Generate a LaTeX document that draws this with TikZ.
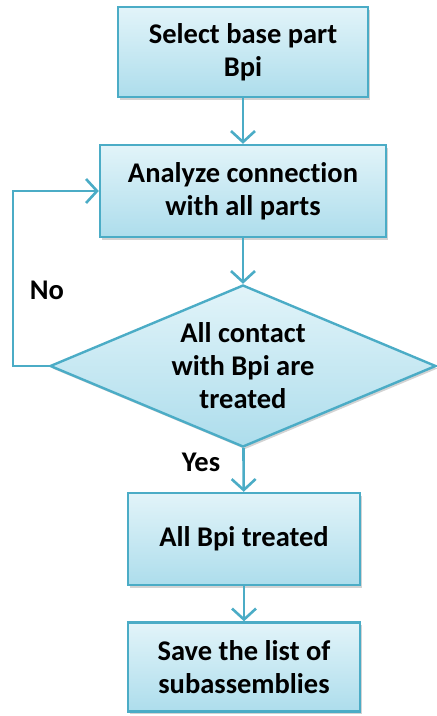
\documentclass[tikz,border=0pt]{standalone}
\usepackage{fontspec}
\setmainfont{Carlito}[Ligatures=NoCommon]
\usetikzlibrary{arrows.meta,shapes.geometric,shadows}

\definecolor{edgeblue}{HTML}{4BACC6}
\definecolor{filltop}{HTML}{E2F4F9}
\definecolor{fillbot}{HTML}{ADDDEC}

\tikzset{
  x=1pt, y=-1pt,
  every node/.style={font=\bfseries\fontsize{28.5}{33}\selectfont, text=black},
  flowbox/.style={draw=edgeblue, line width=2.4pt, top color=filltop, bottom color=fillbot,
    rectangle, align=center, inner sep=0pt,
    drop shadow={shadow xshift=2pt, shadow yshift=-2.5pt, opacity=0.35}},
  decision/.style={draw=edgeblue, line width=2.4pt, top color=filltop, bottom color=fillbot,
    diamond, align=center, inner sep=0pt, aspect=2.4,
    minimum width=386pt, minimum height=162pt,
    drop shadow={shadow xshift=2pt, shadow yshift=-2.5pt, opacity=0.35}},
  flow/.style={draw=edgeblue, line width=2.6pt,
    -{Straight Barb[length=11pt, width=24pt, line width=2.6pt]}},
  tag/.style={inner sep=0pt}
}

\begin{document}
\begin{tikzpicture}
  \useasboundingbox (0,0) rectangle (437,716);

  \node[flowbox, minimum width=250pt, minimum height=90pt] (sel) at (243,52)
    {Select base part\\Bpi};
  \node[flowbox, minimum width=286pt, minimum height=92pt] (ana) at (243,191)
    {Analyze connection\\with all parts};
  \node[decision] (dec) at (243,366)
    {All contact\\with Bpi are\\treated};
  \node[flowbox, minimum width=232pt, minimum height=92pt] (all) at (244,539)
    {All Bpi treated};
  \node[flowbox, minimum width=232pt, minimum height=89pt] (save) at (244,667)
    {Save the list of\\subassemblies};

  \coordinate (loop) at (13,366);

  \draw[flow] (sel) -- (ana);
  \draw[flow] (ana) -- (dec);
  \draw[flow] (dec) -- (all);
  \draw[flow] (all) -- (save);
  \draw[flow] (dec.west) -- (loop) |- (ana.west);

  \node[tag] (no) at (47,290) {No};
  \node[tag] (yes) at (201,462) {Yes};
\end{tikzpicture}
\end{document}
